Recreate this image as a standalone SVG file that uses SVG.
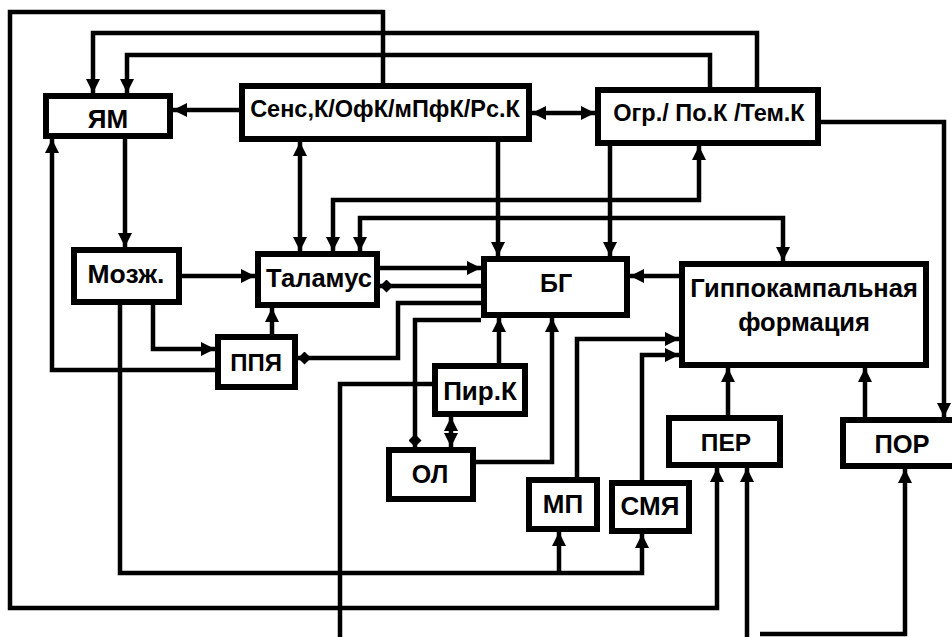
<svg xmlns="http://www.w3.org/2000/svg" width="952" height="637" viewBox="0 0 952 637">
<style>
.box{fill:#fff;stroke:#000;stroke-width:6}
.t{font-family:"Liberation Sans",Arial,sans-serif;font-weight:bold;font-size:25px;fill:#000;text-anchor:middle}
.c path{fill:none;stroke:#000;stroke-width:4.5}
.a{marker-end:url(#ar)}
.aa{marker-end:url(#ar);marker-start:url(#ar)}
.d{marker-end:url(#dm)}
</style>
<defs>
<marker id="ar" markerUnits="userSpaceOnUse" markerWidth="14" markerHeight="14" refX="14" refY="7" orient="auto-start-reverse"><path d="M0,0 L14,7 L0,14 z" fill="#000"/></marker>
<marker id="dm" markerUnits="userSpaceOnUse" markerWidth="13" markerHeight="13" refX="13" refY="6.5" orient="auto"><path d="M0,6.5 L6.5,0 L13,6.5 L6.5,13 z" fill="#000"/></marker>
</defs>
<rect width="952" height="637" fill="#fff"/>
<g class="c" id="connectors">
<path class="a" d="M383,83 V12 H10 V608 H717 V468"/>
<path class="a" d="M757,87 V33 H93 V93"/>
<path class="a" d="M710,87 V55 H127 V93"/>
<path class="a" d="M239,110 H173"/>
<path class="aa" d="M532,113 H595"/>
<path class="a" d="M125,139 V247"/>
<path class="aa" d="M300,142 V251"/>
<path class="a" d="M498,142 V256"/>
<path class="a" d="M610,146 V256"/>
<path class="a" d="M821,122 H944 V417"/>
<path class="aa" d="M333,251 V200 H699 V146"/>
<path class="aa" d="M360,251 V218 H783 V261"/>
<path class="a" d="M182,276 H255"/>
<path class="a" d="M380,268 H481"/>
<path class="d" d="M481,286 H380"/>
<path class="d" d="M481,303 H398 V358 H298"/>
<path class="d" d="M481,320 H415 V447"/>
<path class="a" d="M499,363 V318"/>
<path class="a" d="M476,462 H552 V318"/>
<path class="aa" d="M451,417 V447"/>
<path d="M432,384 H340 V637"/>
<path class="a" d="M153,305 V349 H215"/>
<path class="a" d="M215,370 H52 V139"/>
<path class="a" d="M272,334 V308"/>
<path class="a" d="M120,305 V573 H642 V534"/>
<path class="a" d="M559,573 V532"/>
<path class="a" d="M577,477 V339 H679"/>
<path class="a" d="M642,480 V355 H679"/>
<path class="a" d="M679,276 H630"/>
<path class="a" d="M728,415 V368"/>
<path class="a" d="M865,417 V368"/>
<path class="a" d="M747,637 V468"/>
<path class="a" d="M760,634 H905 V469"/>
</g>
<g id="n-yam"><rect class="box" x="46" y="96" width="124" height="40"/><text class="t" x="108" y="128" style="font-size:26px">ЯМ</text></g>
<g id="n-sens"><rect class="box" x="242" y="86" width="287" height="53"/><text class="t" x="385" y="117" style="font-size:23.5px">Сенс,К/ОфК/мПфК/Рс.К</text></g>
<g id="n-ogr"><rect class="box" x="598" y="90" width="220" height="53"/><text class="t" x="709" y="121" style="font-size:23.5px">Огр./ По.К /Тем.К</text></g>
<g id="n-mozzh"><rect class="box" x="74" y="250" width="105" height="52"/><text class="t" x="126" y="283" style="font-size:26.5px">Мозж.</text></g>
<g id="n-talamus"><rect class="box" x="258" y="254" width="119" height="51"/><text class="t" x="319" y="287" style="font-size:25.5px">Таламус</text></g>
<g id="n-bg"><rect class="box" x="484" y="259" width="143" height="56"/><text class="t" x="556" y="292">БГ</text></g>
<g id="n-hippo"><rect class="box" x="682" y="264" width="244" height="101"/><text class="t" x="804" y="297" style="font-size:25.5px">Гиппокампальная</text><text class="t" x="804" y="331" style="font-size:25.5px">формация</text></g>
<g id="n-ppya"><rect class="box" x="218" y="337" width="77" height="50"/><text class="t" x="256" y="371" style="font-size:24px">ППЯ</text></g>
<g id="n-pirk"><rect class="box" x="435" y="366" width="90" height="48"/><text class="t" x="480" y="400" style="font-size:26px">Пир.К</text></g>
<g id="n-ol"><rect class="box" x="389" y="450" width="84" height="49"/><text class="t" x="430" y="483">ОЛ</text></g>
<g id="n-mp"><rect class="box" x="529" y="480" width="68" height="49"/><text class="t" x="563" y="513" style="font-size:26px">МП</text></g>
<g id="n-smya"><rect class="box" x="612" y="483" width="77" height="48"/><text class="t" x="650" y="515" style="font-size:26px">СМЯ</text></g>
<g id="n-per"><rect class="box" x="669" y="418" width="111" height="47"/><text class="t" x="726" y="451" style="font-size:24.5px">ПЕР</text></g>
<g id="n-por"><rect class="box" x="843" y="420" width="115" height="46"/><text class="t" x="902" y="453" style="font-size:25.5px">ПОР</text></g>
</svg>
